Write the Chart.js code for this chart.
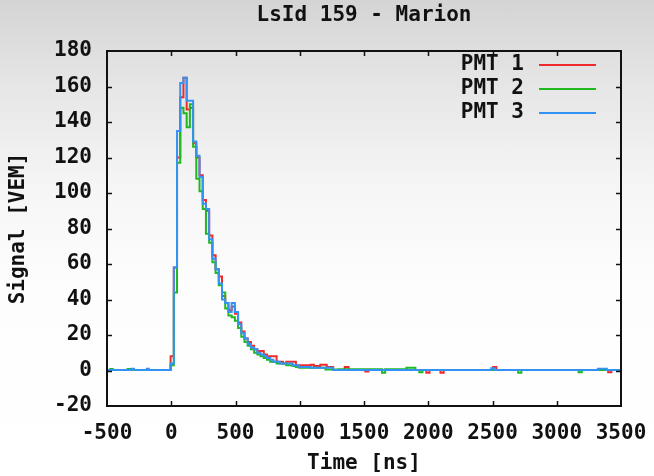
<!DOCTYPE html>
<html lang="en">
<head>
  <meta charset="UTF-8">
  <title>LsId 159 - Marion</title>
  <script src="https://cdn.jsdelivr.net/npm/chart.js"></script>
  <style>
    html, body { margin: 0; padding: 0; }
    body {
      width: 654px; height: 476px; overflow: hidden;
      background: linear-gradient(to bottom, #d4d4d4 0%, #e6e6e6 18%, #f6f6f6 40%, #fdfdfd 60%, #ffffff 100%);
    }
    canvas { display: block; }
  </style>
</head>
<body>
  <canvas id="traceChart" width="654" height="476"></canvas>

  <script>
    // time of each bin start [ns] and signal [VEM], one pair per PMT
    const pmt1Times = [-500, -5, 20, 45, 70, 95, 120, 145, 170, 195, 220, 245, 270, 295, 320, 345, 370, 395, 420, 445, 470, 495, 520, 545, 570, 595, 620, 645, 670, 720, 745, 820, 870, 895, 970, 1085, 1110, 1160, 1210, 1260, 1350, 1380, 1510, 1535, 1985, 2010, 2095, 2120, 2505, 2530, 3400, 3425, 3500];
    const pmt1Values = [0.3, 8, 58, 120, 154, 165, 147, 148, 128, 120, 110, 96, 90, 76, 65, 57, 53, 42, 38, 34, 36, 32, 27, 22, 18, 16, 14, 12, 11, 9, 8, 5, 4, 5, 3, 3.3, 2.5, 3.3, 2, 0.3, 2, 0.3, -0.5, 0.3, -1.2, 0.3, -1.2, 0.3, 2, 0.3, -1, 0.3, 0.3];

    const pmt2Times = [-500, -475, -455, -340, -320, -5, 20, 45, 70, 95, 120, 145, 170, 195, 220, 245, 270, 295, 320, 345, 370, 395, 420, 445, 470, 495, 520, 545, 570, 595, 620, 645, 670, 695, 720, 745, 770, 820, 895, 945, 970, 995, 1200, 1300, 1640, 1665, 1830, 1900, 1930, 1955, 2700, 2725, 3170, 3195, 3500];
    const pmt2Values = [0.3, 0.8, 0.3, 0.8, 0.3, 3, 44, 117, 148, 145, 137, 150, 126, 108, 101, 91, 77, 72, 61, 55, 48, 44, 35, 31, 30, 28, 24, 19, 16, 14, 12, 10, 9, 8, 7, 6, 5, 4, 3, 2.5, 2, 1.5, 0.5, 0.7, -1.2, 0.7, 1.6, 0.3, -1, 0.3, -1.2, 0.3, -1, 0.3, 0.3];

    const pmt3Times = [-500, -310, -290, -190, -175, -5, 20, 45, 70, 95, 120, 145, 170, 195, 220, 245, 270, 295, 320, 345, 370, 395, 420, 445, 470, 495, 520, 545, 570, 595, 620, 645, 670, 695, 720, 745, 770, 795, 845, 945, 995, 1085, 1260, 2490, 2515, 3320, 3390, 3500];
    const pmt3Values = [0.3, 1, 0.3, 1, 0.3, 4, 58, 135, 162, 165, 152, 152, 129, 121, 109, 94, 91, 74, 63, 57, 49, 40, 38, 33, 38, 33, 26, 21, 18, 15, 13, 12, 10, 9, 8, 7, 6, 5, 4, 3, 2, 1.5, 0.3, 1.2, 0.3, 1, 0.3, 0.3];

    const seriesLabels = ['PMT 1', 'PMT 2', 'PMT 3'];
    const seriesColors = ['#f02a2a', '#1fb81f', '#3393f5'];

    const FONT = { family: '"DejaVu Sans Mono", monospace', size: 21, weight: 'bold' };

    function toPoints(times, values) {
      return times.map((t, i) => ({ x: t, y: values[i] }));
    }

    // gnuplot-like box with inward ticks, title and key
    const gnuplotFrame = {
      id: 'gnuplotFrame',
      afterDraw(chart) {
        const ctx = chart.ctx;
        const a = chart.chartArea;
        const xs = chart.scales.x, ys = chart.scales.y;
        const tl = 5;
        ctx.save();
        ctx.strokeStyle = '#111';
        ctx.lineWidth = 2;
        ctx.strokeRect(a.left, a.top, a.right - a.left, a.bottom - a.top);
        ctx.lineWidth = 1.5;
        ctx.beginPath();
        xs.ticks.forEach(t => {
          const px = Math.round(xs.getPixelForValue(t.value)) + 0.5;
          if (px <= a.left + 1 || px >= a.right - 1) return;
          ctx.moveTo(px, a.bottom); ctx.lineTo(px, a.bottom - tl);
          ctx.moveTo(px, a.top); ctx.lineTo(px, a.top + tl);
        });
        ys.ticks.forEach(t => {
          const py = Math.round(ys.getPixelForValue(t.value)) + 0.5;
          if (py <= a.top + 1 || py >= a.bottom - 1) return;
          ctx.moveTo(a.left, py); ctx.lineTo(a.left + tl, py);
          ctx.moveTo(a.right, py); ctx.lineTo(a.right - tl, py);
        });
        ctx.stroke();

        // title
        ctx.font = 'bold 21px "DejaVu Sans Mono", monospace';
        ctx.fillStyle = '#111';
        ctx.textAlign = 'center';
        ctx.textBaseline = 'middle';
        ctx.fillText('LsId 159 - Marion', (a.left + a.right) / 2, 16);

        // key
        chart.data.datasets.forEach((ds, i) => {
          const y = 65 + i * 24;
          ctx.textAlign = 'right';
          ctx.fillStyle = '#111';
          ctx.fillText(ds.label, 524, y);
          ctx.strokeStyle = ds.borderColor;
          ctx.lineWidth = 2;
          ctx.beginPath();
          ctx.moveTo(539, y);
          ctx.lineTo(596, y);
          ctx.stroke();
        });
        ctx.restore();
      }
    };

    const ctx = document.getElementById('traceChart').getContext('2d');
    new Chart(ctx, {
      type: 'line',
      data: {
        datasets: [
          { label: seriesLabels[0], data: toPoints(pmt1Times, pmt1Values), borderColor: seriesColors[0], order: 2 },
          { label: seriesLabels[1], data: toPoints(pmt2Times, pmt2Values), borderColor: seriesColors[1], order: 1 },
          { label: seriesLabels[2], data: toPoints(pmt3Times, pmt3Values), borderColor: seriesColors[2], order: 0 }
        ].map(d => Object.assign(d, { stepped: true, borderWidth: 2, pointRadius: 0, fill: false }))
      },
      options: {
        responsive: false,
        animation: false,
        devicePixelRatio: 1,
        layout: { padding: { top: 51, right: 33, left: 0, bottom: 0 } },
        plugins: { legend: { display: false }, title: { display: false }, tooltip: { enabled: false } },
        scales: {
          x: {
            type: 'linear',
            min: -500, max: 3500,
            grid: { display: false, drawTicks: false },
            border: { display: false },
            ticks: { stepSize: 500, font: FONT, color: '#111', padding: 15, maxRotation: 0, callback: v => String(v) },
            title: { display: true, text: 'Time [ns]', font: FONT, color: '#111', padding: 0 },
            afterFit(s) { s.height = 70; s.paddingLeft = 0; s.paddingRight = 0; }
          },
          y: {
            min: -20, max: 180,
            grid: { display: false, drawTicks: false },
            border: { display: false },
            ticks: { stepSize: 20, font: FONT, color: '#111', padding: 15, callback: v => String(v) },
            title: { display: true, text: 'Signal [VEM]', font: FONT, color: '#111', padding: { top: 6, bottom: 0 } },
            afterFit(s) { s.width = 107; s.paddingTop = 0; s.paddingBottom = 0; }
          }
        }
      },
      plugins: [gnuplotFrame]
    });
  </script>
</body>
</html>
